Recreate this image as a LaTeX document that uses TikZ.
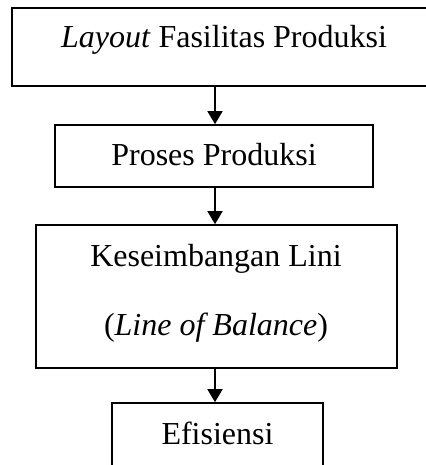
\documentclass[tikz,border=0pt]{standalone}
\usepackage{fontspec}
\setmainfont{Liberation Serif}
\usetikzlibrary{arrows.meta}
\begin{document}
\begin{tikzpicture}[x=1pt,y=1pt,
  boxs/.style={draw=black,line width=1.6pt,rectangle,inner sep=0pt},
  txt/.style={anchor=base,inner sep=0pt,font=\fontsize{32}{38}\selectfont},
  arr/.style={line width=1.6pt,-{Triangle[width=15pt,length=13pt]}}]
\useasboundingbox (0,0) rectangle (425,-465);
\node[boxs,minimum width=424pt,minimum height=78pt] (b1) at (224,-47) {};
\node[boxs,minimum width=318pt,minimum height=62pt] (b2) at (214,-156) {};
\node[boxs,minimum width=361pt,minimum height=143pt] (b3) at (216.5,-296.5) {};
\node[boxs,minimum width=211pt,minimum height=90pt] (b4) at (217.5,-448) {};
\node[txt] (t1) at (224,-48) {\textit{Layout} Fasilitas Produksi};
\node[txt] (t2) at (214,-165) {Proses Produksi};
\node[txt] (t3) at (216,-266) {Keseimbangan Lini};
\node[txt] (t3b) at (216,-335) {(\textit{Line of Balance})};
\node[txt] (t4) at (217.5,-444) {Efisiensi};
\coordinate (ax) at (215,0);
\draw[arr] (b1.south -| ax) -- (b2.north -| ax);
\draw[arr] (b2.south -| ax) -- (b3.north -| ax);
\draw[arr] (b3.south -| ax) -- (b4.north -| ax);
\end{tikzpicture}
\end{document}
